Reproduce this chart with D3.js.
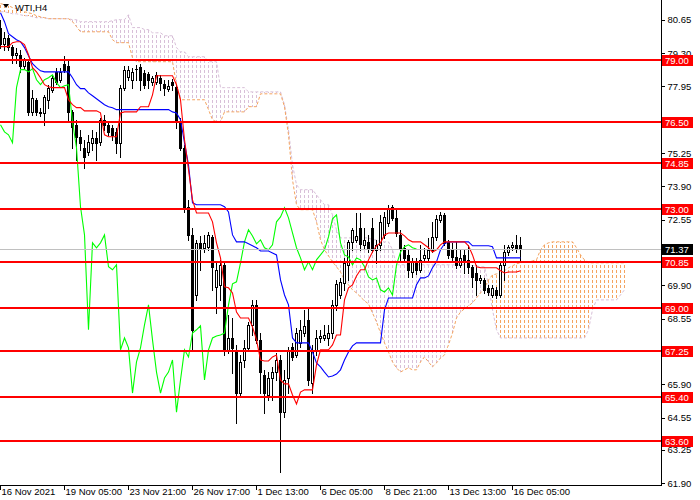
<!DOCTYPE html>
<html><head><meta charset="utf-8">
<script src="https://cdn.jsdelivr.net/npm/d3@7"></script>
<style>html,body{margin:0;padding:0;background:#fff;overflow:hidden;} svg{display:block;font-family:"Liberation Sans",Arial,sans-serif;}</style>
</head><body><svg id="c" width="700" height="500"></svg>
<script>
const symbol = "WTI,H4";
const open = [80.33,79.68,79.92,79.56,79.23,79.23,78.79,78.95,76.92,77.41,
76.92,76.88,77.41,77.82,78.54,78.22,78.87,78.79,76.92,76.40,
75.91,75.47,75.30,75.67,75.87,75.71,76.60,76.40,76.28,76.11,
75.67,77.90,78.34,78.22,78.63,78.75,78.50,78.46,78.14,78.14,
78.30,78.06,77.86,78.14,77.94,76.52,75.47,73.08,71.94,69.51,
71.62,71.42,71.46,71.86,69.84,69.92,70.73,67.29,67.77,67.29,
65.54,66.88,67.37,68.30,69.11,67.69,66.27,65.46,66.15,66.39,
66.88,64.77,66.15,67.41,67.08,67.57,67.97,68.50,65.95,67.29,
67.77,67.77,67.77,67.97,69.11,69.51,70.00,70.73,71.66,71.74,
72.23,71.54,71.66,72.23,71.34,71.54,71.94,72.43,73.08,72.63,
71.94,71.42,71.13,70.44,70.85,70.53,71.01,71.01,71.34,71.86,
72.55,72.75,71.66,71.34,71.05,70.73,71.13,70.93,70.65,70.40,
70.12,70.12,69.80,69.51,69.72,69.51,70.73,71.25,71.46,71.54,
71.54];
const high = [80.65,80.16,80.04,79.64,79.52,79.44,79.11,79.03,77.82,77.49,
77.09,77.61,78.02,78.42,78.71,78.71,79.19,79.03,77.01,76.60,
76.20,75.79,75.99,76.20,76.11,76.68,76.80,76.52,76.40,76.28,
78.02,78.79,78.79,78.71,78.83,78.87,78.63,78.54,78.38,78.54,
78.42,78.22,78.22,78.26,78.06,76.68,75.59,73.36,72.23,71.74,
71.90,71.94,72.06,71.94,70.85,70.93,70.85,68.70,68.58,67.49,
67.08,67.69,68.42,69.31,69.31,67.97,66.48,66.39,66.60,67.16,
67.08,66.48,67.41,67.57,68.18,68.50,68.91,68.99,67.49,68.10,
68.10,68.30,68.30,69.31,70.12,70.20,71.01,71.74,72.23,72.83,
72.83,72.23,71.94,72.63,71.74,72.75,72.87,73.16,73.16,73.04,
72.15,71.54,71.34,71.01,71.01,71.54,71.42,71.82,72.47,72.75,
72.87,72.83,71.74,71.62,71.66,71.34,71.34,71.54,70.73,70.73,
70.32,70.20,69.92,69.92,69.84,70.81,71.54,71.54,71.66,71.94,
71.86];
const low = [79.52,79.44,79.44,78.91,78.91,78.54,78.71,76.80,76.80,76.80,
76.76,76.40,77.09,77.73,78.06,78.14,78.54,76.52,75.47,74.98,
75.39,74.66,75.18,75.39,74.98,75.59,76.20,75.99,75.79,75.26,
75.10,77.82,78.22,77.90,78.22,77.82,77.90,77.90,78.02,78.06,
77.82,77.61,77.77,77.82,76.28,75.39,72.87,71.74,67.29,69.31,
70.53,71.25,71.34,69.72,68.78,69.31,67.08,67.16,66.35,64.33,
65.46,66.60,67.29,67.89,67.57,65.54,64.73,65.26,65.26,66.07,
62.34,64.57,65.54,66.88,67.00,67.41,67.85,65.87,65.54,67.08,
67.61,67.69,67.49,67.77,68.91,69.39,69.72,70.12,71.34,71.66,
71.34,71.42,71.25,71.25,70.81,71.34,71.82,72.31,72.55,71.90,
70.85,70.85,70.24,70.24,70.36,70.44,70.85,70.85,71.25,71.74,
72.47,71.54,71.01,70.93,70.61,70.65,70.40,70.40,69.84,69.51,
70.00,69.59,69.51,69.43,69.39,69.43,70.12,71.13,71.34,71.25,
70.85];
const close = [79.68,79.92,79.56,79.23,79.31,78.79,79.03,76.92,77.49,76.92,
76.88,77.53,77.90,78.30,78.14,78.54,78.63,76.92,76.32,75.91,
75.67,75.10,75.71,75.87,75.67,76.60,76.40,76.11,75.99,75.67,
77.90,78.63,78.63,78.54,78.67,78.22,78.02,78.22,78.30,78.42,
78.10,77.90,77.98,78.02,76.52,75.47,73.08,71.94,68.10,71.62,
71.42,71.62,71.94,70.65,70.53,70.73,67.29,67.77,67.37,65.54,
66.80,67.37,68.30,69.11,67.69,66.39,65.54,66.15,66.39,66.88,
64.77,66.07,67.29,67.00,67.97,68.10,68.26,66.07,67.29,67.77,
67.85,67.89,67.97,69.11,69.96,70.04,70.81,71.66,72.15,71.90,
71.58,71.74,71.42,71.34,71.54,72.47,72.67,73.04,72.63,72.02,
71.42,71.01,70.53,70.85,70.53,70.93,71.13,71.34,71.86,72.59,
72.75,71.62,71.13,71.05,70.73,71.01,70.93,70.65,70.24,70.12,
70.20,69.72,69.63,69.80,69.51,70.73,71.25,71.46,71.54,71.42,
71.37];
const tenkan = [79.56,79.56,79.56,79.72,79.76,79.76,79.64,79.23,78.71,78.54,
78.30,78.02,77.94,77.90,77.90,77.90,77.90,77.41,77.21,77.09,
77.09,76.96,76.96,76.96,76.96,76.88,75.99,75.91,75.91,75.91,
76.88,76.92,76.92,76.92,76.92,77.13,77.13,77.13,77.61,78.38,
78.38,78.38,78.38,78.38,78.02,77.41,75.79,74.58,73.36,72.83,
72.83,72.83,72.83,72.47,71.62,71.01,69.84,69.80,69.59,68.82,
68.58,68.58,68.58,68.22,67.69,66.88,66.84,66.84,67.00,67.08,
66.07,65.91,65.91,65.46,65.10,65.58,65.67,65.67,65.67,66.68,
67.29,67.29,67.29,67.49,67.89,67.89,69.31,69.80,69.92,70.28,
70.53,70.53,70.93,71.25,71.50,71.62,71.94,72.02,72.02,72.02,
72.02,71.90,71.74,71.66,71.66,71.66,71.54,71.42,71.25,71.34,
71.54,71.66,71.66,71.66,71.66,71.66,71.66,71.50,71.13,70.65,
70.61,70.61,70.61,70.61,70.61,70.49,70.40,70.44,70.44,70.44,
70.49];
const kijun = [80.93,80.57,80.08,79.96,79.84,79.76,79.52,79.19,78.87,78.71,
78.58,78.54,78.54,78.54,78.54,78.54,78.54,78.54,78.30,78.02,
77.86,77.86,77.69,77.57,77.45,77.33,77.21,77.13,77.09,77.01,
77.01,77.01,77.01,77.01,77.01,77.01,77.01,77.01,77.01,77.01,
77.01,77.01,77.01,76.92,76.88,76.60,75.67,74.78,73.24,73.16,
73.16,73.16,73.16,73.16,73.16,73.16,73.08,72.87,71.94,71.66,
71.66,71.66,71.58,71.50,71.42,71.29,71.29,71.29,71.21,71.13,
70.12,69.51,69.11,67.77,67.57,67.57,67.57,67.57,67.20,66.76,
66.60,66.39,66.19,66.23,66.31,66.48,66.88,67.20,67.45,67.57,
67.57,67.57,67.57,67.57,67.57,67.57,68.91,69.39,69.39,69.39,
69.39,69.39,69.39,69.39,69.92,70.20,70.20,70.28,70.61,70.85,
71.34,71.58,71.66,71.66,71.66,71.66,71.66,71.66,71.50,71.50,
71.50,71.50,71.50,71.46,71.01,71.01,71.01,71.01,71.01,71.01,
71.01];
const chikou = [76.40,76.11,75.99,75.67,77.90,78.63,78.63,78.54,78.67,78.22,
78.02,78.22,78.30,78.42,78.10,77.90,77.98,78.02,76.52,75.47,
73.08,71.94,68.10,71.62,71.42,71.62,71.94,70.65,70.53,70.73,
67.29,67.77,67.37,65.54,66.80,67.37,68.30,69.11,67.69,66.39,
65.54,66.15,66.39,66.88,64.77,66.07,67.29,67.00,67.97,68.10,
68.26,66.07,67.29,67.77,67.85,67.89,67.97,69.11,69.96,70.04,
70.81,71.66,72.15,71.90,71.58,71.74,71.42,71.34,71.54,72.47,
72.67,73.04,72.63,72.02,71.42,71.01,70.53,70.85,70.53,70.93,
71.13,71.34,71.86,72.59,72.75,71.62,71.13,71.05,70.73,71.01,
70.93,70.65,70.24,70.12,70.20,69.72,69.63,69.80,69.51,70.73,
71.25,71.46,71.54,71.42,71.37];
const spanA = [81.30,81.26,81.22,81.14,81.10,81.06,80.97,80.93,80.89,80.81,
80.77,80.73,80.69,80.69,80.69,80.69,80.69,80.69,80.57,80.37,
80.16,80.16,80.16,80.16,80.16,80.16,80.16,80.16,79.84,79.72,
79.72,79.72,79.72,79.11,78.95,78.95,78.95,78.95,78.95,78.95,
78.95,78.95,78.95,78.95,78.02,77.41,77.41,77.41,77.41,77.41,
77.41,77.41,77.01,76.60,76.52,76.52,76.92,76.92,76.92,76.92,
76.92,76.92,77.13,77.13,77.13,77.65,77.65,77.65,77.65,77.65,
77.65,77.13,75.99,74.17,73.16,72.96,72.96,72.96,72.96,72.47,
71.74,71.34,71.09,70.85,70.65,70.44,70.12,69.92,69.72,69.59,
69.43,69.27,69.15,68.78,68.42,67.97,67.57,67.20,66.80,66.56,
66.39,66.48,66.56,66.48,66.48,66.80,67.00,66.80,66.60,66.76,
66.96,67.08,67.49,67.97,68.58,68.82,68.95,69.07,69.19,69.39,
69.59,69.80,70.12,70.32,70.36,70.40,70.49,70.61,70.69,70.77,
70.81,70.85,70.85,70.89,70.93,71.34,71.54,71.62,71.66,71.66,
71.66,71.66,71.66,71.66,71.42,71.13,70.93,70.81,70.81,70.81,
70.81,70.81,70.81,70.81,70.81,70.81,70.81];
const spanB = [80.97,80.97,80.93,80.89,80.89,80.85,80.81,80.81,80.77,80.73,
80.73,80.73,80.69,80.69,80.69,80.69,80.69,80.69,80.65,80.65,
80.57,80.57,80.57,80.57,80.57,80.57,80.57,80.57,80.61,80.65,
80.65,80.65,80.85,80.33,80.33,80.33,80.25,80.25,80.12,80.12,
80.12,80.00,80.00,80.00,79.52,79.35,79.35,79.15,79.15,79.15,
79.15,79.15,78.95,78.95,78.95,77.90,77.90,77.90,77.90,77.90,
77.90,77.90,77.73,77.73,77.73,77.73,77.73,77.73,77.73,77.73,
77.73,77.21,76.20,74.78,73.97,73.77,73.77,73.77,73.77,73.56,
73.36,73.16,73.16,72.75,72.15,71.82,71.82,71.82,71.82,71.82,
71.82,71.82,71.82,71.74,71.74,71.66,71.66,71.66,71.34,70.73,
70.73,70.73,70.73,70.73,70.73,70.73,70.73,70.73,70.73,70.73,
70.73,70.73,70.73,70.73,70.73,70.73,70.73,70.73,70.69,70.69,
70.65,70.65,69.92,68.91,68.10,67.77,67.77,67.77,67.77,67.77,
67.77,67.77,67.77,67.77,67.77,67.77,67.77,67.77,67.77,67.77,
67.77,67.77,67.77,67.77,67.77,67.77,67.77,68.10,68.91,69.31,
69.31,69.31,69.31,69.31,69.31,69.51,69.72];
const levels = [79.00,76.50,74.85,73.00,70.85,69.00,67.25,65.40,63.60];
const bid = 71.37;
const yTicks = [80.65,79.30,77.95,75.25,73.90,72.55,69.90,68.55,65.90,64.55,63.25,61.90];
const xTickBars = [0,16,32,48,64,80,96,112,128];
const xTickLabels = ["16 Nov 2021","19 Nov 05:00","23 Nov 21:00","26 Nov 17:00","1 Dec 13:00","6 Dec 05:00","8 Dec 21:00","13 Dec 13:00","16 Dec 05:00"];

const AX = 661, AY = 485;
const x = d3.scaleLinear().domain([0,165]).range([0,660]);
const y = d3.scaleLinear().domain([61.90,80.65]).range([483,19.7]);
const svg = d3.select("#c");
const FS = "9.5px";

svg.append("defs").append("clipPath").attr("id","plot")
  .append("rect").attr("x",0).attr("y",0).attr("width",AX).attr("height",AY);
const g = svg.append("g").attr("clip-path","url(#plot)");

const ORANGE = "#F4A460", THISTLE = "#D8BFD8";
// cloud hatch
const hatch = g.append("g").attr("shape-rendering","crispEdges");
spanA.forEach((a,i)=>{
  const b = spanB[i];
  if (Math.abs(a-b) < 0.005) return;
  const y1 = Math.round(Math.min(y(a),y(b))), y2 = Math.round(Math.max(y(a),y(b)));
  hatch.append("line")
    .attr("x1",x(i)+0.5).attr("x2",x(i)+0.5).attr("y1",y1).attr("y2",y2)
    .attr("stroke", a > b ? ORANGE : THISTLE).attr("stroke-width",1)
    .attr("stroke-dasharray","3,2").attr("stroke-dashoffset", y1 % 5);
});
const lineGen = d3.line().x((d,i)=>x(i)+0.5).y(d=>y(d));
g.append("path").attr("d",lineGen(spanB)).attr("fill","none").attr("stroke",THISTLE).attr("stroke-dasharray","3,2");
g.append("path").attr("d",lineGen(spanA)).attr("fill","none").attr("stroke",ORANGE).attr("stroke-dasharray","3,2");

// candles
const cg = g.append("g").attr("shape-rendering","crispEdges");
close.forEach((c,i)=>{
  const o = open[i], cx = x(i);
  cg.append("line").attr("x1",cx+0.5).attr("x2",cx+0.5)
    .attr("y1",Math.round(y(high[i]))).attr("y2",Math.round(y(low[i]))+1)
    .attr("stroke","#000");
  const top = Math.round(y(Math.max(o,c))), bot = Math.round(y(Math.min(o,c)));
  if (c < o) {
    cg.append("rect").attr("x",cx-1).attr("y",top).attr("width",3).attr("height",Math.max(1,bot-top+1)).attr("fill","#000");
  } else if (bot - top < 2) {
    cg.append("rect").attr("x",cx-1).attr("y",top).attr("width",3).attr("height",1).attr("fill","#000");
  } else {
    cg.append("rect").attr("x",cx-0.5).attr("y",top+0.5).attr("width",2).attr("height",bot-top)
      .attr("fill","#fff").attr("stroke","#000").attr("stroke-width",1);
  }
});

// indicator lines
const il = g.append("g");
il.append("path").attr("d",lineGen(chikou)).attr("fill","none").attr("stroke","#00ff00").attr("stroke-width",1.1);
il.append("path").attr("d",lineGen(kijun)).attr("fill","none").attr("stroke","#0000ff").attr("stroke-width",1.1);
il.append("path").attr("d",lineGen(tenkan)).attr("fill","none").attr("stroke","#ff0000").attr("stroke-width",1.1);

// bid line
g.append("line").attr("x1",0).attr("x2",AX).attr("y1",Math.round(y(bid))+0.5).attr("y2",Math.round(y(bid))+0.5)
  .attr("stroke","#c0c0c0").attr("shape-rendering","crispEdges");

// horizontal levels
g.append("g").selectAll("line").data(levels).join("line")
  .attr("x1",0).attr("x2",AX).attr("y1",d=>Math.round(y(d))).attr("y2",d=>Math.round(y(d)))
  .attr("stroke","#ff0000").attr("stroke-width",2).attr("shape-rendering","crispEdges");

// frame
svg.append("line").attr("x1",AX+0.5).attr("x2",AX+0.5).attr("y1",0).attr("y2",AY+1).attr("stroke","#000").attr("shape-rendering","crispEdges");
svg.append("line").attr("x1",0).attr("x2",AX+1).attr("y1",AY+0.5).attr("y2",AY+0.5).attr("stroke","#000").attr("shape-rendering","crispEdges");

// right axis
const ya = svg.append("g").attr("transform",`translate(${AX+0.5},0)`)
  .call(d3.axisRight(y).tickValues(yTicks).tickFormat(d3.format(".2f")).tickSize(3).tickPadding(3));
ya.select(".domain").remove();
ya.selectAll("text").attr("font-size",FS).attr("font-family","Liberation Sans, Arial, sans-serif").attr("fill","#000");
ya.selectAll("line").attr("shape-rendering","crispEdges");

// bottom axis
const xa = svg.append("g").attr("transform",`translate(0,${AY+0.5})`)
  .call(d3.axisBottom(x).tickValues(xTickBars).tickFormat((d,i)=>xTickLabels[i]).tickSize(4).tickPadding(2));
xa.select(".domain").remove();
xa.selectAll(".tick").attr("transform",d=>`translate(${x(d)+0.5},0)`);
xa.selectAll("text").attr("font-size",FS).attr("font-family","Liberation Sans, Arial, sans-serif")
  .attr("fill","#000").attr("text-anchor","start").attr("x",1).attr("y",3);
xa.selectAll("line").attr("shape-rendering","crispEdges");

// level labels
const lbl = svg.append("g");
levels.forEach(v=>{
  const yy = Math.round(y(v));
  lbl.append("rect").attr("x",AX+1).attr("y",yy-5).attr("width",31).attr("height",11).attr("fill","#ff0000");
  lbl.append("text").attr("x",AX+4).attr("y",yy+4).attr("font-size",FS).attr("fill","#fff").text(v.toFixed(2));
});
{
  const yy = Math.round(y(bid));
  lbl.append("rect").attr("x",AX+1).attr("y",yy-5).attr("width",31).attr("height",11).attr("fill","#000");
  lbl.append("text").attr("x",AX+4).attr("y",yy+4).attr("font-size",FS).attr("fill","#fff").text(bid.toFixed(2));
}

// symbol label
svg.append("path").attr("d","M3,4 L9,4 L6,8 Z").attr("fill","#000");
svg.append("text").attr("x",15).attr("y",11).attr("font-size",FS).attr("fill","#000").text(symbol);
</script></body></html>
